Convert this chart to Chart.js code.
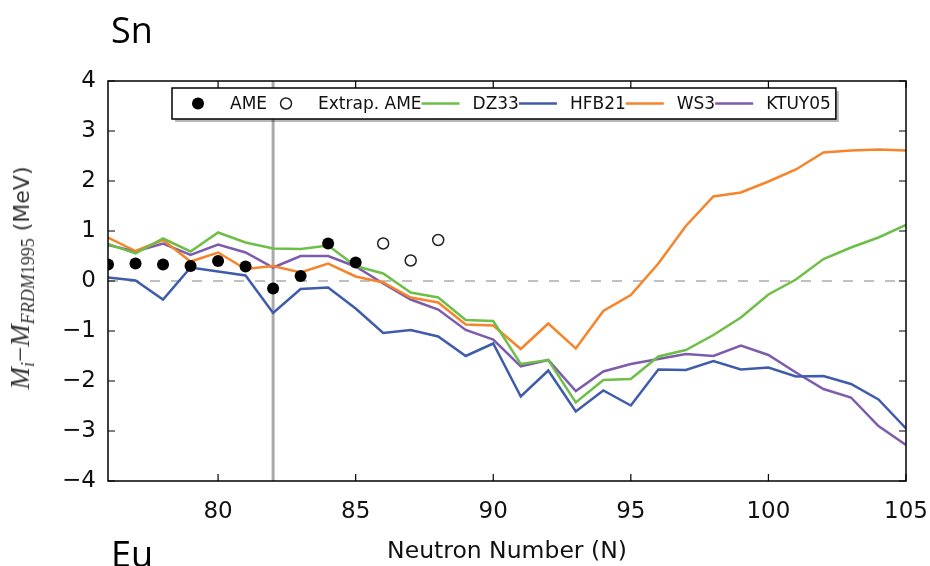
<!DOCTYPE html>
<html>
<head>
<meta charset="utf-8">
<script src="https://cdn.jsdelivr.net/npm/chart.js@4.4.1/dist/chart.umd.min.js"></script>
<style>
  html, body { margin: 0; padding: 0; background: #fff; }
  #wrap { position: relative; width: 930px; height: 566px; overflow: hidden; }
  #chart { position: absolute; left: 0; top: 0; }
  .panel { position: absolute; font-family: "Open Sans", sans-serif; font-size: 36px; line-height: 1; color: #000; }
  #ylabel {
    position: absolute; left: 22px; top: 278px;
    transform: translate(-50%, -50%) rotate(-90deg);
    white-space: nowrap; color: #333; font-size: 22px;
    font-family: "DejaVu Sans", sans-serif;
  }
  #ylabel .m { font-family: "Liberation Serif", serif; font-style: italic; font-size: 27px; }
  #ylabel sub { font-size: 18px; vertical-align: -5px; }
  #ylabel .up { font-style: normal; }
</style>
</head>
<body>
<div id="wrap">
  <canvas id="chart" width="930" height="566"></canvas>
  <div class="panel" style="left:111px; top:12px;">Sn</div>
  <div class="panel" style="left:111px; top:536px;">Eu</div>
  <div id="ylabel"><span class="m">M<sub>i</sub></span><span class="m up">&minus;</span><span class="m">M<sub>FRDM<span class="up">1995</span></sub></span> (MeV)</div>
</div>
<script>
// Neutron numbers for the model curves
const neutrons = [76, 77, 78, 79, 80, 81, 82, 83, 84, 85, 86, 87, 88, 89, 90,
                  91, 92, 93, 94, 95, 96, 97, 98, 99, 100, 101, 102, 103, 104, 105];

// Mass differences relative to FRDM1995 (MeV)
const dz33 = [0.74, 0.55, 0.85, 0.59, 0.97, 0.77, 0.65, 0.64, 0.71, 0.30, 0.15, -0.23, -0.33, -0.78, -0.80,
              -1.66, -1.58, -2.43, -1.98, -1.96, -1.51, -1.38, -1.08, -0.73, -0.27, 0.03, 0.44, 0.67, 0.87, 1.12];
const hfb21 = [0.07, 0.01, -0.37, 0.27, 0.19, 0.11, -0.64, -0.16, -0.13, -0.55, -1.04, -0.98, -1.11, -1.50, -1.25,
               -2.31, -1.79, -2.61, -2.19, -2.49, -1.77, -1.78, -1.60, -1.77, -1.73, -1.91, -1.90, -2.06, -2.37, -2.95];
const ws3 = [0.87, 0.60, 0.82, 0.39, 0.57, 0.24, 0.30, 0.17, 0.35, 0.09, -0.03, -0.33, -0.43, -0.87, -0.89,
             -1.36, -0.85, -1.35, -0.60, -0.28, 0.35, 1.10, 1.69, 1.77, 1.99, 2.23, 2.57, 2.61, 2.63, 2.61];
const ktuy05 = [0.72, 0.59, 0.75, 0.52, 0.73, 0.57, 0.27, 0.50, 0.50, 0.29, -0.05, -0.37, -0.57, -0.98, -1.17,
                -1.71, -1.58, -2.20, -1.81, -1.66, -1.56, -1.46, -1.50, -1.29, -1.48, -1.83, -2.16, -2.33, -2.90, -3.28];

// AME measured and extrapolated
const ameN = [76, 77, 78, 79, 80, 81, 82, 83, 84, 85];
const ame = [0.33, 0.35, 0.33, 0.30, 0.40, 0.29, -0.15, 0.10, 0.75, 0.37];
const extrapN = [86, 87, 88];
const extrapAme = [0.75, 0.41, 0.82];

const xTicks = [80, 85, 90, 95, 100, 105];
const yTicks = [-4, -3, -2, -1, 0, 1, 2, 3, 4];
const closureN = 82;

const pts = (xs, ys) => xs.map((v, i) => ({ x: v, y: ys[i] }));

function lineSet(label, values, color) {
    return {
        label: label,
        data: pts(neutrons, values),
        borderColor: color,
        backgroundColor: color,
        borderWidth: 2.5,
        pointRadius: 0,
        tension: 0,
        legendKind: 'line'
    };
}

const framePlugin = {
    id: 'frame',
    beforeDatasetsDraw(chart) {
        const { ctx, chartArea: a, scales: { x, y } } = chart;
        ctx.save();
        const y0 = y.getPixelForValue(0);
        ctx.strokeStyle = '#c0c0c0';
        ctx.lineWidth = 2;
        ctx.setLineDash([10, 11]);
        ctx.beginPath();
        ctx.moveTo(a.left, y0);
        ctx.lineTo(a.right, y0);
        ctx.stroke();
        ctx.setLineDash([]);
        const xm = x.getPixelForValue(closureN);
        ctx.strokeStyle = '#aaaaaa';
        ctx.lineWidth = 3;
        ctx.beginPath();
        ctx.moveTo(xm, a.top);
        ctx.lineTo(xm, a.bottom);
        ctx.stroke();
        ctx.restore();
    },
    afterDatasetsDraw(chart) {
        const { ctx, chartArea: a, scales: { x, y } } = chart;
        ctx.save();
        ctx.strokeStyle = '#000';
        ctx.lineWidth = 1.5;
        ctx.strokeRect(a.left, a.top, a.right - a.left, a.bottom - a.top);
        ctx.lineWidth = 1.2;
        ctx.beginPath();
        yTicks.forEach(v => {
            const py = y.getPixelForValue(v);
            ctx.moveTo(a.left, py); ctx.lineTo(a.left + 7, py);
            ctx.moveTo(a.right, py); ctx.lineTo(a.right - 7, py);
        });
        xTicks.forEach(v => {
            const px = x.getPixelForValue(v);
            ctx.moveTo(px, a.bottom); ctx.lineTo(px, a.bottom - 7);
            ctx.moveTo(px, a.top); ctx.lineTo(px, a.top + 7);
        });
        ctx.stroke();
        ctx.restore();
    },
    afterDraw(chart) {
        // matplotlib-like legend: handle, then label, next handle right after the label
        const ctx = chart.ctx;
        const sets = chart.data.datasets;
        const left = 172, top = 88, h = 31;
        const cy = top + h / 2;
        ctx.save();
        ctx.font = '17px "DejaVu Sans"';
        let cur = left + 7;
        const items = sets.map(ds => {
            const it = { ds: ds, hx: cur, tx: cur + 51 };
            cur = it.tx + ctx.measureText(ds.label).width;
            return it;
        });
        const right = cur + 5;
        ctx.fillStyle = 'rgba(0,0,0,0.28)';
        ctx.fillRect(left + 3, top + 3, right - left, h);
        ctx.fillStyle = '#fff';
        ctx.fillRect(left, top, right - left, h);
        ctx.strokeStyle = '#000';
        ctx.lineWidth = 1.5;
        ctx.strokeRect(left, top, right - left, h);
        items.forEach(it => {
            const ds = it.ds;
            if (ds.legendKind === 'line') {
                ctx.strokeStyle = ds.borderColor;
                ctx.lineWidth = 2.5;
                ctx.beginPath();
                ctx.moveTo(it.hx, cy);
                ctx.lineTo(it.hx + 38, cy);
                ctx.stroke();
            } else {
                ctx.beginPath();
                ctx.arc(it.hx + 19, cy, ds.pointRadius, 0, Math.PI * 2);
                if (ds.legendKind === 'dot') {
                    ctx.fillStyle = '#000';
                    ctx.fill();
                } else {
                    ctx.strokeStyle = '#222';
                    ctx.lineWidth = 1.5;
                    ctx.stroke();
                }
            }
            ctx.fillStyle = '#111';
            ctx.textBaseline = 'middle';
            ctx.textAlign = 'left';
            ctx.fillText(ds.label, it.tx, cy + 1);
        });
        ctx.restore();
    }
};

const tickFont = { family: 'DejaVu Sans', size: 23 };

new Chart(document.getElementById('chart'), {
    type: 'line',
    data: {
        datasets: [
            {
                label: 'AME',
                data: pts(ameN, ame),
                showLine: false,
                pointRadius: 6,
                pointHoverRadius: 6,
                backgroundColor: '#000',
                borderColor: '#000',
                borderWidth: 0,
                clip: 0,
                legendKind: 'dot'
            },
            {
                label: 'Extrap. AME',
                data: pts(extrapN, extrapAme),
                showLine: false,
                pointRadius: 5.5,
                backgroundColor: 'rgba(255,255,255,0)',
                borderColor: '#222',
                borderWidth: 1.5,
                legendKind: 'open'
            },
            lineSet('DZ33', dz33, '#6dbf48'),
            lineSet('HFB21', hfb21, '#3f5cab'),
            lineSet('WS3', ws3, '#f5842a'),
            lineSet('KTUY05', ktuy05, '#7d5bad')
        ]
    },
    options: {
        responsive: false,
        animation: false,
        devicePixelRatio: 1,
        layout: { padding: { top: 81, right: 24, left: 0, bottom: 0 } },
        plugins: { legend: { display: false }, tooltip: { enabled: false } },
        scales: {
            x: {
                type: 'linear',
                min: 76,
                max: 105,
                afterBuildTicks: s => { s.ticks = xTicks.map(v => ({ value: v })); },
                afterFit: s => { s.height = 85; s.paddingLeft = 0; s.paddingRight = 0; },
                grid: { display: false },
                border: { display: false },
                ticks: { font: tickFont, color: '#111', padding: 9, maxRotation: 0 },
                title: {
                    display: true,
                    text: 'Neutron Number (N)',
                    font: { family: 'DejaVu Sans', size: 23.5 },
                    color: '#111',
                    padding: { top: 0, bottom: 0 }
                }
            },
            y: {
                min: -4,
                max: 4,
                afterBuildTicks: s => { s.ticks = yTicks.map(v => ({ value: v })); },
                afterFit: s => { s.width = 108; s.paddingTop = 0; s.paddingBottom = 0; },
                grid: { display: false },
                border: { display: false },
                ticks: {
                    font: tickFont,
                    color: '#111',
                    padding: 4,
                    callback: v => v < 0 ? '\u2212' + Math.abs(v) : String(v)
                }
            }
        }
    },
    plugins: [framePlugin]
});
</script>
</body>
</html>
